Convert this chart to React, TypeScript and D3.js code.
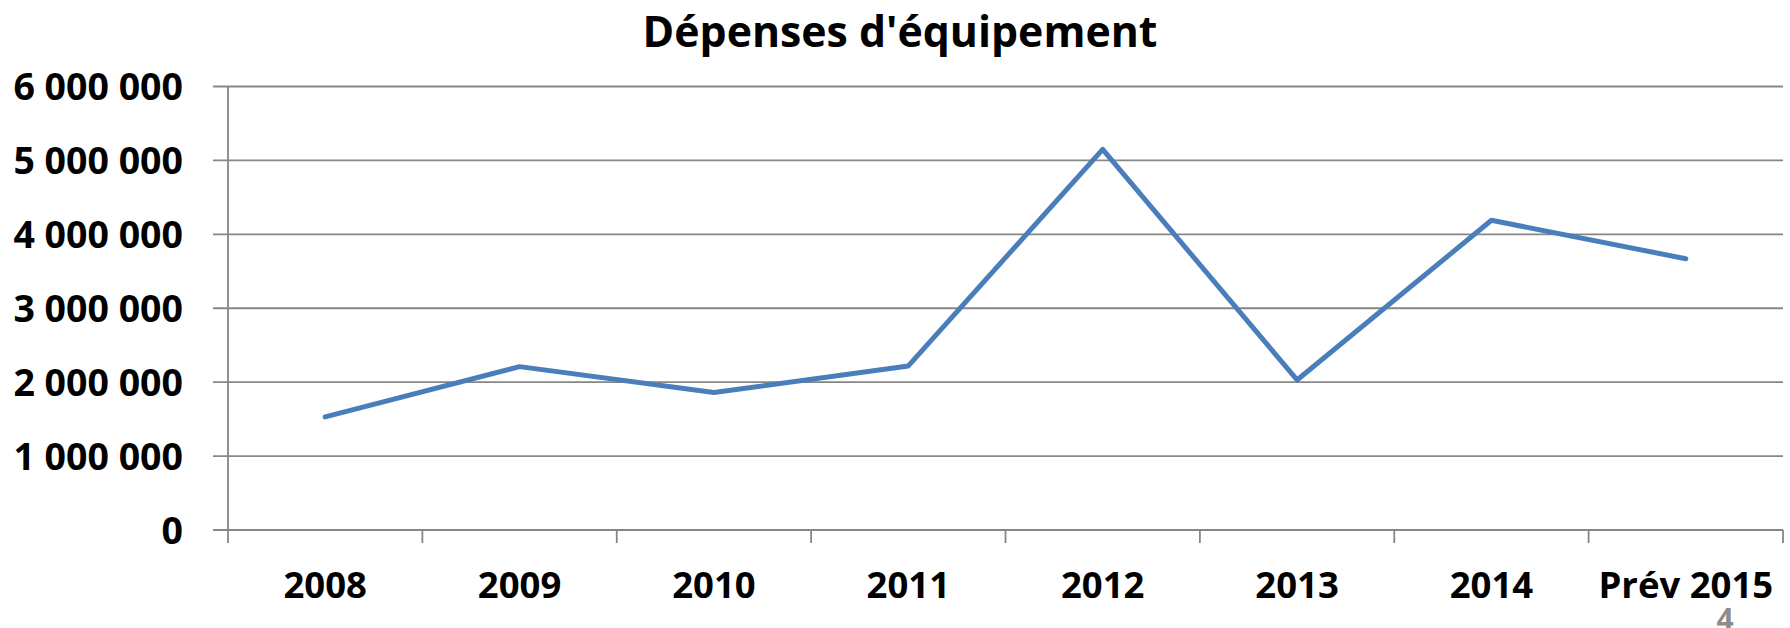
import React, { useEffect, useRef } from 'react';
import * as d3 from 'd3';

const categories = ['2008', '2009', '2010', '2011', '2012', '2013', '2014', 'Prév 2015'];
const depenses = [1530000, 2210000, 1860000, 2220000, 5150000, 2030000, 4190000, 3670000];
const yTicks = [0, 1000000, 2000000, 3000000, 4000000, 5000000, 6000000];
const title = "Dépenses d'équipement";
const pageNumber = '4';

const formatFr = (v: number) => d3.format(',')(v).replace(/,/g, ' ');

const App = () => {
    const svgRef = useRef<SVGSVGElement>(null);

    useEffect(() => {
        if (!svgRef.current) return;
        const width = 1790;
        const height = 628;
        const margin = { top: 86.5, right: 7, bottom: 98, left: 228 };
        const innerWidth = width - margin.left - margin.right;
        const innerHeight = height - margin.top - margin.bottom;
        const font = "'Open Sans', 'Noto Sans', sans-serif";
        const gridColor = '#868686';

        const svg = d3.select(svgRef.current);
        svg.selectAll('*').remove();
        svg.attr('width', width).attr('height', height).attr('viewBox', [0, 0, width, height]);

        svg.append('rect').attr('width', width).attr('height', height).attr('fill', '#ffffff');

        const g = svg.append('g').attr('transform', `translate(${margin.left},${margin.top})`);

        const xScale = d3.scaleBand().domain(categories).range([0, innerWidth]).padding(0);
        const yScale = d3.scaleLinear().domain([0, 6000000]).range([innerHeight, 0]);

        // gridlines + left ticks
        g.append('g')
            .selectAll('line')
            .data(yTicks)
            .join('line')
            .attr('x1', -15)
            .attr('x2', innerWidth)
            .attr('y1', d => yScale(d))
            .attr('y2', d => yScale(d))
            .attr('stroke', gridColor)
            .attr('stroke-width', 1.8);

        // y axis line
        g.append('line')
            .attr('x1', 0).attr('x2', 0)
            .attr('y1', 0).attr('y2', innerHeight + 13)
            .attr('stroke', gridColor)
            .attr('stroke-width', 1.8);

        // x ticks between categories
        const bounds = categories.map(c => (xScale(c) || 0) + xScale.bandwidth());
        g.append('g')
            .selectAll('line')
            .data(bounds)
            .join('line')
            .attr('x1', d => d).attr('x2', d => d)
            .attr('y1', innerHeight).attr('y2', innerHeight + 13)
            .attr('stroke', gridColor)
            .attr('stroke-width', 1.8);

        // y labels
        g.append('g')
            .selectAll('text')
            .data(yTicks)
            .join('text')
            .attr('x', -45)
            .attr('y', d => yScale(d))
            .attr('dy', '0.36em')
            .attr('text-anchor', 'end')
            .attr('font-family', font)
            .attr('font-weight', 700)
            .attr('font-size', 37.5)
            .attr('fill', '#000')
            .text(d => formatFr(d));

        // x labels
        g.append('g')
            .selectAll('text')
            .data(categories)
            .join('text')
            .attr('x', d => (xScale(d) || 0) + xScale.bandwidth() / 2)
            .attr('y', innerHeight + 68)
            .attr('text-anchor', 'middle')
            .attr('font-family', font)
            .attr('font-weight', 700)
            .attr('font-size', 36.5)
            .attr('fill', '#000')
            .text(d => d);

        // line
        const line = d3.line<number>()
            .x((d, i) => (xScale(categories[i]) || 0) + xScale.bandwidth() / 2)
            .y(d => yScale(d));

        g.append('path')
            .datum(depenses)
            .attr('d', line)
            .attr('fill', 'none')
            .attr('stroke', '#4a7ebb')
            .attr('stroke-width', 5)
            .attr('stroke-linejoin', 'round')
            .attr('stroke-linecap', 'round');

        // title
        svg.append('text')
            .attr('x', 900)
            .attr('y', 47)
            .attr('text-anchor', 'middle')
            .attr('font-family', font)
            .attr('font-weight', 700)
            .attr('font-size', 42.8)
            .attr('fill', '#000')
            .text(title);

        // page number
        svg.append('text')
            .attr('x', 1725)
            .attr('y', 630)
            .attr('text-anchor', 'middle')
            .attr('font-family', font)
            .attr('font-weight', 700)
            .attr('font-size', 30)
            .attr('fill', '#8c8c8c')
            .text(pageNumber);
    }, []);

    return (
        <div style={{ position: 'absolute', left: 0, top: 0, width: 1790, height: 628, overflow: 'hidden' }}>
            <svg ref={svgRef} style={{ display: 'block' }} />
        </div>
    );
};

export default App;
